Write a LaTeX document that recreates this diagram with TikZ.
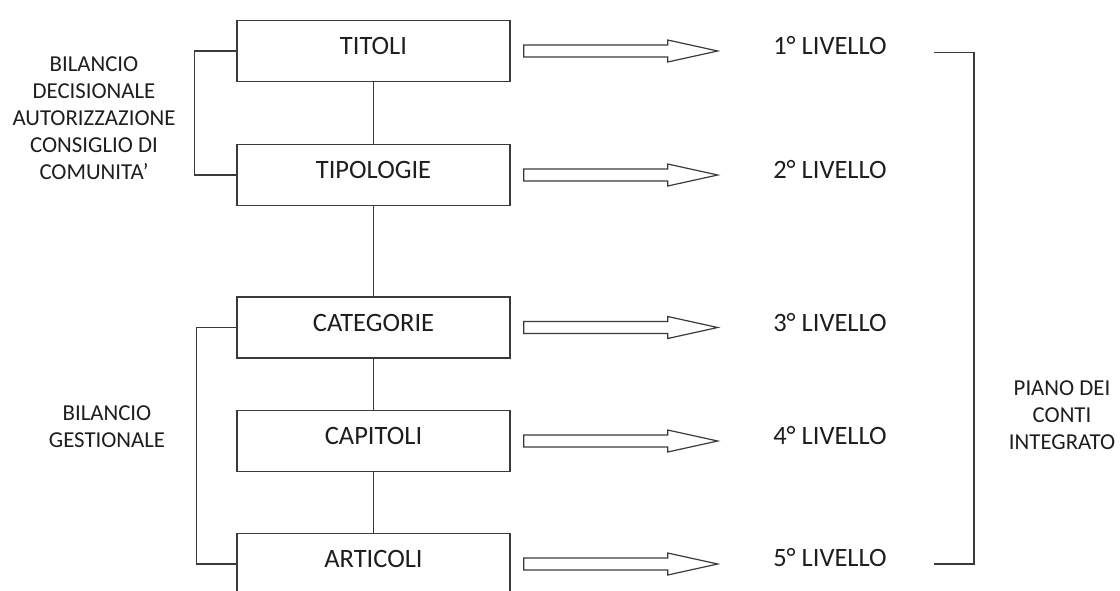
\documentclass[tikz,border=0pt]{standalone}
\usepackage{fontspec}
\setmainfont{Carlito}
\usetikzlibrary{calc}
\definecolor{ink}{HTML}{1E1E1E}
\definecolor{wirec}{HTML}{3A3A3A}
\tikzset{
  lvlbox/.style={draw=wirec, line width=1.4pt, minimum width=273pt, minimum height=61pt, inner sep=0pt, text height=17pt, text depth=10pt, font=\fontsize{26.5}{30}\selectfont, text=ink},
  lvltext/.style={font=\fontsize{26.5}{30}\selectfont, text=ink, inner sep=0pt},
  sidetext/.style={font=\fontsize{22.8}{27}\selectfont, text=ink, align=center, inner sep=0pt},
  wire/.style={draw=wirec, line width=1.4pt},
  blockarr/.pic={\draw[wirec, line width=1.2pt, line join=miter] (0,-6) -- (144,-6) -- (144,-11) -- (194,0) -- (144,11) -- (144,6) -- (0,6) -- cycle;}
}
\begin{document}
\begin{tikzpicture}[x=1pt,y=-1pt]
\useasboundingbox (0,0) rectangle (1120,590);
\clip (0,0) rectangle (1120,590);
\node[lvlbox] (t1) at (373.5,51) {TITOLI};
\node[lvlbox] (t2) at (373.5,175) {TIPOLOGIE};
\node[lvlbox] (t3) at (373.5,327.5) {CATEGORIE};
\node[lvlbox] (t4) at (373.5,441) {CAPITOLI};
\node[lvlbox] (t5) at (373.5,564) {ARTICOLI};
\draw[wire] (t1) -- (t2);
\draw[wire] (t2) -- (t3);
\draw[wire] (t3) -- (t4);
\draw[wire] (t4) -- (t5);
\foreach \i in {1,...,5}{\pic at ($(t\i.east)+(13,0)$) {blockarr};}
\node[lvltext] (l1) at (830,46) {1° LIVELLO};
\node[lvltext] (l2) at (830,170) {2° LIVELLO};
\node[lvltext] (l3) at (830,323) {3° LIVELLO};
\node[lvltext] (l4) at (830,436) {4° LIVELLO};
\node[lvltext] (l5) at (830,558) {5° LIVELLO};
\draw[wire] (t1.west) -- ++(-42,0) |- (t2.west);
\draw[wire] (t3.west) -- ++(-40,0) |- (t5.west);
\coordinate (rt) at (934,52.5);
\coordinate (rb) at (934,564);
\draw[wire] (rt) -- (974,52.5) -- (974,564) -- (rb);
\node[sidetext] (s1) at (94,118) {BILANCIO\\DECISIONALE\\AUTORIZZAZIONE\\CONSIGLIO DI\\COMUNITA’};
\node[sidetext] (s2) at (107,427) {BILANCIO\\GESTIONALE};
\node[sidetext] (s3) at (1062,415) {PIANO DEI\\CONTI\\INTEGRATO};
\end{tikzpicture}
\end{document}
